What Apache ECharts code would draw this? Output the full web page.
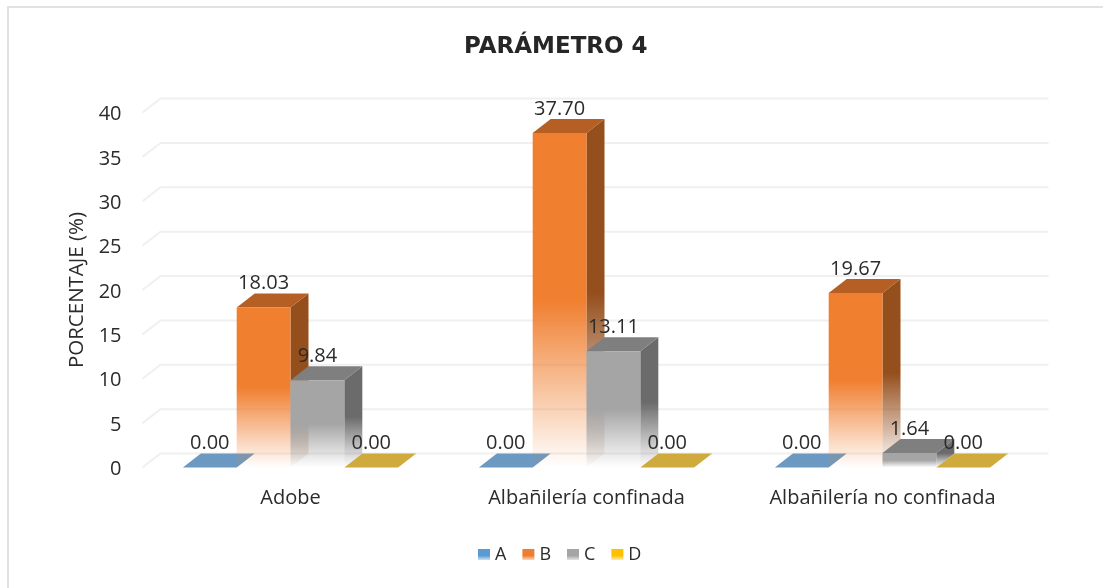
<!DOCTYPE html>
<html>
<head>
<meta charset="utf-8">
<title>Parámetro 4</title>
<script src="https://cdn.jsdelivr.net/npm/echarts@6/dist/echarts.min.js"></script>
<style>
  html, body { margin: 0; padding: 0; background: #fff; }
  #chart { width: 1103px; height: 588px; }
</style>
</head>
<body>
<div id="chart"></div>
<script>
// Chart values
const categories = ['Adobe', 'Albañilería confinada', 'Albañilería no confinada'];
const seriesNames = ['A', 'B', 'C', 'D'];
const valuesA = [0, 0, 0];
const valuesB = [18.03, 37.70, 19.67];
const valuesC = [9.84, 13.11, 1.64];
const valuesD = [0, 0, 0];
const yTicks = [0, 5, 10, 15, 20, 25, 30, 35, 40];

// Shading per series: front face, top face, side face
const faces = [
  { front: [91, 155, 213], top: '#6c99c1', side: '#4a7aa6', legend: [91, 155, 213] },
  { front: [240, 127, 48], top: '#b55f24', side: '#954f1d', legend: [237, 125, 49] },
  { front: [165, 165, 165], top: '#7f7f7f', side: '#6b6b6b', legend: [165, 165, 165] },
  { front: [255, 192, 0], top: '#cfaa3c', side: '#a88a20', legend: [255, 192, 0] }
];

// Oblique projection offset of the chart depth, in pixels
const depthX = 18;
const depthY = -14;
// Four bars plus the gap between clusters share one category band
const bandSlots = 5.5;

const rgba = (c, a) => `rgba(${c[0]},${c[1]},${c[2]},${a})`;
const fade = (c, solidUntil) => new echarts.graphic.LinearGradient(0, 0, 0, 1, [
  { offset: 0, color: rgba(c, 1) },
  { offset: solidUntil, color: rgba(c, 1) },
  { offset: 1, color: rgba(c, 0) }
]);
const hexRgb = h => [1, 3, 5].map(i => parseInt(h.substr(i, 2), 16));

function barSlot(api, cat, idx) {
  const center = api.coord([cat, 0])[0];
  const w = api.size([1, 0])[0] / bandSlots;
  return { x0: center - 2 * w + idx * w, w };
}

// One cuboid: side and top behind a front face that fades out towards the floor
function renderBar(idx) {
  return function (params, api) {
    const cat = api.value(0);
    const val = api.value(1);
    const { x0, w } = barSlot(api, cat, idx);
    const x1 = x0 + w;
    const yBase = api.coord([cat, 0])[1];
    const yTop = api.coord([cat, val])[1];
    const face = faces[idx];
    const children = [];
    if (val > 0) {
      children.push({
        type: 'polygon',
        shape: { points: [[x1, yTop], [x1 + depthX, yTop + depthY], [x1 + depthX, yBase + depthY], [x1, yBase]] },
        style: { fill: fade(hexRgb(face.side), 0.5) }
      });
    }
    children.push({
      type: 'polygon',
      shape: { points: [[x0, yTop], [x0 + depthX, yTop + depthY], [x1 + depthX, yTop + depthY], [x1, yTop]] },
      style: { fill: face.top }
    });
    if (val > 0) {
      children.push({
        type: 'rect',
        shape: { x: x0, y: yTop, width: w, height: yBase - yTop },
        style: { fill: fade(face.front, 0.5) }
      });
    }
    return { type: 'group', children };
  };
}

// Value caption above each bar
function renderLabel(idx) {
  return function (params, api) {
    const cat = api.value(0);
    const val = api.value(1);
    const { x0, w } = barSlot(api, cat, idx);
    const yTop = api.coord([cat, val])[1];
    return {
      type: 'text',
      style: {
        x: x0 + w / 2,
        y: yTop - 24,
        text: val.toFixed(2),
        align: 'center',
        verticalAlign: 'middle',
        fill: '#2b2b2b',
        font: '20px "Open Sans"'
      }
    };
  };
}

// Gridline running across the floor edge and along the back wall
function renderGridLine(params, api) {
  const y = api.coord([0, api.value(1)])[1];
  const left = params.coordSys.x;
  const right = left + params.coordSys.width;
  return {
    type: 'polyline',
    shape: { points: [[left, y], [left + depthX, y + depthY], [right + depthX, y + depthY]] },
    style: { fill: 'none', stroke: '#f0f0f0', lineWidth: 2 }
  };
}

const seriesValues = [valuesA, valuesB, valuesC, valuesD];
const pairs = vals => vals.map((v, i) => [i, v]);

const series = [{
  type: 'custom',
  name: 'grid',
  coordinateSystem: 'cartesian2d',
  z: 1,
  silent: true,
  clip: false,
  data: yTicks.map(t => [0, t]),
  encode: { x: 0, y: 1 },
  renderItem: renderGridLine
}];
seriesValues.forEach((vals, idx) => {
  series.push({
    type: 'custom',
    name: seriesNames[idx],
    coordinateSystem: 'cartesian2d',
    z: 2 + idx,
    clip: false,
    data: pairs(vals),
    encode: { x: 0, y: 1 },
    itemStyle: { color: rgba(faces[idx].legend, 1) },
    renderItem: renderBar(idx)
  });
});
seriesValues.forEach((vals, idx) => {
  series.push({
    type: 'custom',
    name: 'label' + seriesNames[idx],
    coordinateSystem: 'cartesian2d',
    z: 10,
    clip: false,
    data: pairs(vals),
    encode: { x: 0, y: 1 },
    renderItem: renderLabel(idx)
  });
});

const chart = echarts.init(document.getElementById('chart'), null, { renderer: 'canvas' });
chart.setOption({
  animation: false,
  backgroundColor: '#ffffff',
  title: {
    text: 'PARÁMETRO 4',
    left: 459,
    top: 31,
    textStyle: { fontFamily: 'DejaVu Sans', fontWeight: 'bold', fontSize: 23, color: '#262626' }
  },
  grid: { left: 142.5, top: 112.5, width: 888, height: 355, containLabel: false },
  xAxis: {
    type: 'category',
    data: categories,
    axisLine: { show: false },
    axisTick: { show: false },
    axisLabel: { margin: 21, fontFamily: 'Open Sans', fontSize: 20, color: '#2b2b2b' }
  },
  yAxis: {
    type: 'value',
    min: 0,
    max: 40,
    interval: 5,
    name: 'PORCENTAJE (%)',
    nameLocation: 'middle',
    nameRotate: 90,
    nameGap: 55,
    nameTextStyle: { fontFamily: 'Open Sans', fontSize: 20.5, color: '#2b2b2b' },
    axisLine: { show: false },
    axisTick: { show: false },
    splitLine: { show: false },
    axisLabel: {
      margin: 21,
      formatter: '{tick|{value}}',
      rich: {
        tick: { fontFamily: 'Open Sans', fontSize: 20, color: '#2b2b2b', lineHeight: 26, padding: [4, 0, 0, 0] }
      }
    }
  },
  legend: {
    left: 473,
    top: 540.5,
    itemWidth: 12,
    itemHeight: 11,
    itemGap: 16,
    icon: 'rect',
    textStyle: { fontFamily: 'Open Sans', fontSize: 18, color: '#2b2b2b' },
    data: seriesNames.map((n, i) => ({
      name: n,
      itemStyle: {
        color: new echarts.graphic.LinearGradient(0, 0, 0, 1, [
          { offset: 0, color: rgba(faces[i].legend, 1) },
          { offset: 0.6, color: rgba(faces[i].legend, 1) },
          { offset: 1, color: rgba(faces[i].legend, 0.3) }
        ])
      }
    }))
  },
  // Frame edges along the top and left of the chart area
  graphic: [
    { type: 'line', shape: { x1: 7.5, y1: 7, x2: 1103, y2: 7 }, style: { stroke: '#e2e2e2', lineWidth: 2 }, silent: true },
    { type: 'line', shape: { x1: 8, y1: 6, x2: 8, y2: 588 }, style: { stroke: '#e2e2e2', lineWidth: 2 }, silent: true }
  ],
  series
});
</script>
</body>
</html>
